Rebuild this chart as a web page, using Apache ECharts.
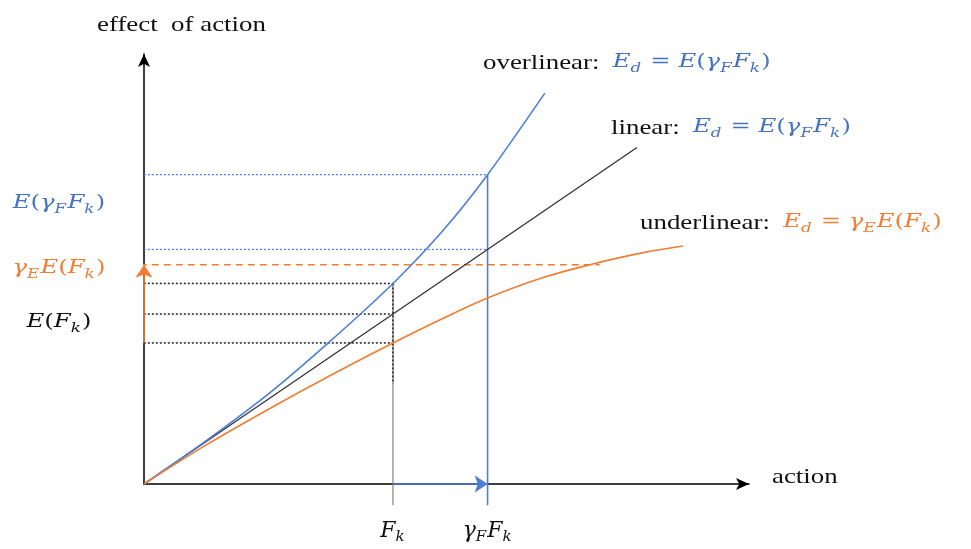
<!DOCTYPE html>
<html>
<head>
<meta charset="utf-8">
<script src="https://cdn.jsdelivr.net/npm/echarts@6/dist/echarts.min.js"></script>
<style>
  html, body { margin: 0; padding: 0; background: #fff; }
  #chart { width: 971px; height: 549px; }
</style>
</head>
<body>
<div id="chart"></div>
<script>
// units: Fk = 1 on the action axis, E(Fk) = 1 on the effect axis
const linX = [0, 1.98];
const linY = [0, 1.98];
const overX = [0, 0.25, 0.5, 0.74, 1.0, 1.2, 1.38, 1.61];
const overY = [0, 0.255, 0.53, 0.83, 1.18, 1.49, 1.82, 2.30];
const underX = [0, 0.25, 0.5, 0.75, 1.0, 1.2, 1.38, 1.6, 1.79, 2.0, 2.165];
const underY = [0, 0.23, 0.44, 0.64, 0.83, 0.974, 1.094, 1.213, 1.29, 1.36, 1.40];

// key values
const Fk = 1;
const gFk = 1.38;        // gamma_F * Fk
const E_gFk = 1.82;      // E(gamma_F Fk) on overlinear curve
const lin_gFk = 1.38;    // linear at gamma_F Fk
const gE_EFk = 1.29;     // gamma_E E(Fk)
const over_Fk = 1.18;
const E_Fk = 1.0;
const under_Fk = 0.83;
const guideStart = -0.065;
const dropEnd = -0.125;
const dotEnd = 0.59;
const dashEnd = 1.83;

// tick labels under the action axis
const xTickValues = [Fk, gFk];
const xTickLabels = ['{i|F}{s|k}', '{i|γ}{s|F}{i|F}{s|k}'];

const BLUE = '#4e7fd6';
const BLUE_TXT = '#4472c4';
const ORANGE = '#ef7d34';
const STRETCH = 1.28;   // the picture's text is wide

function mathRich(color, size) {
    size = size || 19;
    const sub = Math.round(size * 0.68);
    return {
        i: { fontFamily: 'DejaVu Serif', fontStyle: 'italic', fontSize: size, lineHeight: size + 3, verticalAlign: 'top', color: color, fill: color },
        n: { fontFamily: 'DejaVu Serif', fontSize: size, lineHeight: size + 3, verticalAlign: 'top', color: color, fill: color },
        s: { fontFamily: 'DejaVu Serif', fontStyle: 'italic', fontSize: sub, lineHeight: sub, padding: [Math.round(size * 0.45), 1, 0, 0], verticalAlign: 'top', color: color, fill: color },
        w: { fontFamily: 'Liberation Serif', fontSize: 21, lineHeight: size + 3, verticalAlign: 'top', color: '#111', fill: '#111' }
    };
}

function zip(xs, ys) {
    return xs.map((x, i) => [x, ys[i]]);
}

function guide(points, color, type, width) {
    return {
        type: 'line', data: points, symbol: 'none', clip: false, silent: true, z: 1,
        lineStyle: { color: color, type: type, width: width }
    };
}

function arrow(from, to, color) {
    return {
        type: 'lines', coordinateSystem: 'cartesian2d', silent: true, z: 4, clip: false,
        symbol: ['none', 'arrow'], symbolSize: 13,
        lineStyle: { color: color, width: 1.7, opacity: 1 },
        data: [{ coords: [from, to] }]
    };
}

function label(x, y, text, color, align) {
    return {
        type: 'text', x: x, y: y, z: 10, scaleX: STRETCH,
        style: { text: text, rich: mathRich(color), fill: color, align: align || 'left', verticalAlign: 'middle' }
    };
}

const chart = echarts.init(document.getElementById('chart'));

const DOT = [2, 2];

const option = {
    backgroundColor: '#fff',
    animation: false,
    grid: { left: 144, right: 222, top: 54, bottom: 65 },
    xAxis: {
        type: 'value', min: 0, max: 2.43,
        splitLine: { show: false }, axisTick: { show: false },
        axisLine: { show: true, symbol: ['none', 'arrow'], symbolSize: [9, 13], lineStyle: { color: '#000', width: 1.5 } },
        axisLabel: {
            customValues: xTickValues,
            margin: 36,
            formatter: v => xTickLabels[xTickValues.indexOf(v)] || '',
            rich: mathRich('#111', 22)
        }
    },
    yAxis: {
        type: 'value', min: 0, max: 2.53,
        splitLine: { show: false }, axisTick: { show: false }, axisLabel: { show: false },
        axisLine: { show: true, symbol: ['none', 'arrow'], symbolSize: [9, 13], lineStyle: { color: '#000', width: 1.5 } }
    },
    series: [
        guide([[guideStart, E_gFk], [gFk, E_gFk]], BLUE, DOT, 1.3),
        guide([[guideStart, lin_gFk], [gFk, lin_gFk]], BLUE, DOT, 1.3),
        guide([[guideStart, gE_EFk], [dashEnd, gE_EFk]], ORANGE, [7, 5], 1.4),
        guide([[guideStart, over_Fk], [Fk, over_Fk]], '#222', DOT, 1.5),
        guide([[guideStart, E_Fk], [Fk, E_Fk]], '#222', DOT, 1.5),
        guide([[guideStart, under_Fk], [Fk, under_Fk]], '#222', DOT, 1.5),
        guide([[Fk, over_Fk], [Fk, dropEnd]], '#777', 'solid', 1.1),
        guide([[Fk, over_Fk], [Fk, dotEnd]], '#222', DOT, 1.5),
        guide([[gFk, E_gFk], [gFk, dropEnd]], BLUE, 'solid', 1.6),
        {
            type: 'line', name: 'linear', data: zip(linX, linY), symbol: 'none', z: 3,
            lineStyle: { color: '#333', width: 1.3 }
        },
        {
            type: 'line', name: 'overlinear', data: zip(overX, overY), symbol: 'none', z: 3,
            smooth: 0.3,
            lineStyle: { color: BLUE, width: 1.6 }
        },
        {
            type: 'line', name: 'underlinear', data: zip(underX, underY), symbol: 'none', z: 3,
            smooth: 0.35,
            lineStyle: { color: ORANGE, width: 1.6 }
        },
        arrow([Fk, 0], [gFk, 0], BLUE),
        arrow([0, under_Fk], [0, gE_EFk], ORANGE)
    ],
    graphic: [
        { type: 'text', x: 97, y: 25, scaleX: STRETCH, style: { text: 'effect  of action', font: '21px "Liberation Serif"', fill: '#111', verticalAlign: 'middle' } },
        { type: 'text', x: 772, y: 477, scaleX: STRETCH, style: { text: 'action', font: '21px "Liberation Serif"', fill: '#111', verticalAlign: 'middle' } },
        label(59, 205, '{i|E}{n|(}{i|γ}{s|F}{i|F}{s|k}{n|)}', BLUE_TXT, 'center'),
        label(59, 270, '{i|γ}{s|E}{i|E}{n|(}{i|F}{s|k}{n|)}', ORANGE, 'center'),
        label(59, 324, '{i|E}{n|(}{i|F}{s|k}{n|)}', '#111', 'center'),
        label(483, 64, '{w|overlinear:  }{i|E}{s|d}{n| = }{i|E}{n|(}{i|γ}{s|F}{i|F}{s|k}{n|)}', BLUE_TXT),
        label(611, 129, '{w|linear:  }{i|E}{s|d}{n| = }{i|E}{n|(}{i|γ}{s|F}{i|F}{s|k}{n|)}', BLUE_TXT),
        label(640, 224, '{w|underlinear:  }{i|E}{s|d}{n| = }{i|γ}{s|E}{i|E}{n|(}{i|F}{s|k}{n|)}', ORANGE)
    ]
};

chart.setOption(option);
</script>
</body>
</html>
